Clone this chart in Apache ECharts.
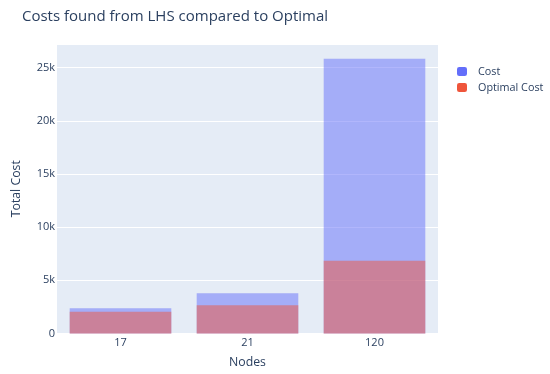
<!DOCTYPE html>
<html><head><meta charset="utf-8">
<script src="https://cdn.jsdelivr.net/npm/echarts@6/dist/echarts.min.js"></script>
<style>html,body{margin:0;padding:0;background:#fff}#c{width:550px;height:374px}</style>
</head><body><div id="c"></div>
<script>
const categories = ['17', '21', '120'];
const costValues = [2370, 3790, 25850];
const optimalValues = [2050, 2650, 6850];
const yTicks = [0, 5000, 10000, 15000, 20000, 25000];

const chart = echarts.init(document.getElementById('c'), null, {renderer: 'canvas'});
const font = '"Open Sans", verdana, arial, sans-serif';
const txt = '#2a3f5f';
chart.setOption({
  animation: false,
  backgroundColor: '#fff',
  textStyle: {fontFamily: font},
  title: {
    text: 'Costs found from LHS compared to Optimal',
    left: 17, top: 4,
    textStyle: {fontFamily: font, fontSize: 15, fontWeight: 'normal', color: txt}
  },
  legend: {
    orient: 'vertical', left: 452, top: 61,
    itemWidth: 10, itemHeight: 9, itemGap: 5,
    textStyle: {fontFamily: font, fontSize: 10.8, color: txt, padding: [0, 0, 0, 6]},
    data: [
      {name: 'Cost', itemStyle: {opacity: 1, color: '#636efa'}},
      {name: 'Optimal Cost', itemStyle: {opacity: 1, color: '#ef553b'}}
    ]
  },
  grid: {left: 57, right: 112, top: 44, bottom: 40.5, containLabel: false, outerBoundsMode: 'none',
         show: true, backgroundColor: '#e5ecf6', borderWidth: 0},
  xAxis: {
    type: 'category', data: categories,
    name: 'Nodes', nameLocation: 'middle', nameGap: 23,
    nameTextStyle: {fontFamily: font, fontSize: 12.3, color: txt},
    axisLine: {show: false}, axisTick: {show: false},
    axisLabel: {fontFamily: font, fontSize: 11, color: txt, margin: 4}
  },
  yAxis: {
    type: 'value', min: 0, max: 27230, interval: 5000,
    name: 'Total Cost', nameLocation: 'middle', nameGap: 35,
    nameTextStyle: {fontFamily: font, fontSize: 12.3, color: txt},
    axisLine: {show: false}, axisTick: {show: false},
    splitLine: {lineStyle: {color: '#fff', width: 1}},
    axisLabel: {fontFamily: font, fontSize: 11, color: txt, margin: 2, showMaxLabel: false,
      formatter: v => yTicks.includes(v) ? (v === 0 ? '0' : (v / 1000) + 'k') : ''}
  },
  series: [
    {name: 'Cost', type: 'bar', data: costValues, barCategoryGap: '20%', barGap: '-100%',
     itemStyle: {color: '#636efa', opacity: 0.5}},
    {name: 'Optimal Cost', type: 'bar', data: optimalValues, barCategoryGap: '20%', barGap: '-100%',
     itemStyle: {color: '#ef553b', opacity: 0.5}}
  ]
});
</script></body></html>
